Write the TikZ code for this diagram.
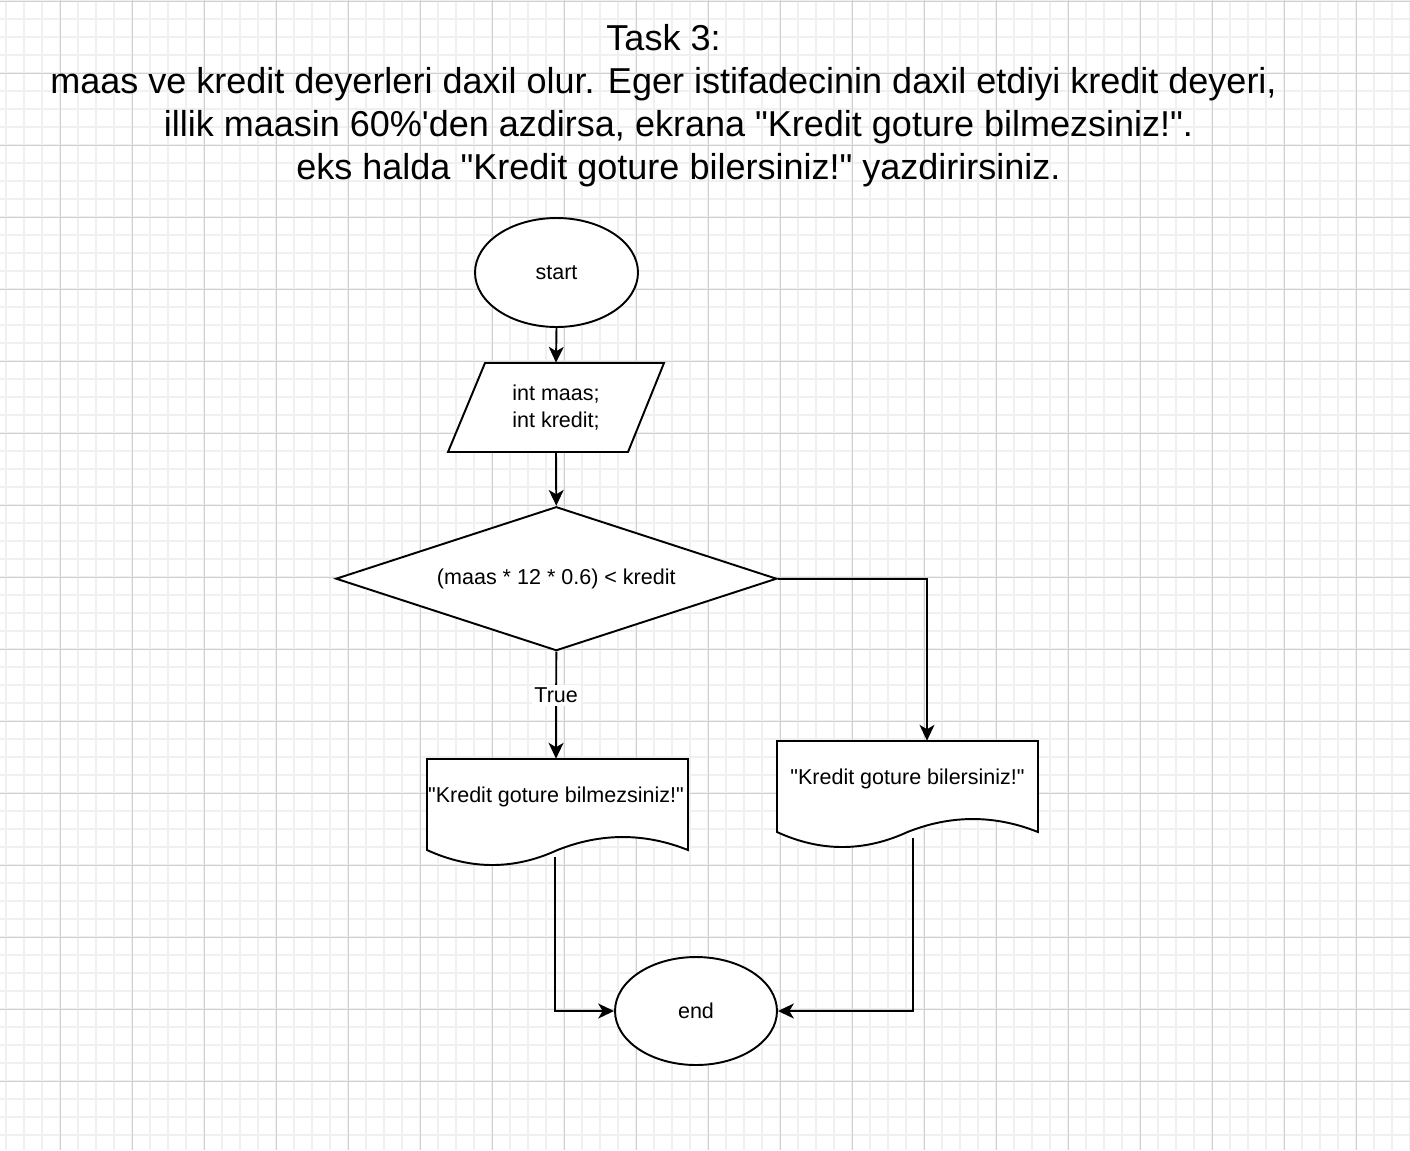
\documentclass[tikz,border=0pt]{standalone}
\usepackage{fontspec}
\setmainfont{Liberation Sans}[Ligatures=TeXOff]
\usetikzlibrary{shapes.geometric,arrows.meta}
\definecolor{gridminor}{HTML}{F0F0F0}
\definecolor{gridmajor}{HTML}{D0D0D0}
\tikzset{
  shp/.style={draw=black, fill=white, line width=1.1pt, line join=miter},
  txt/.style={font=\fontsize{12.25}{15.4}\selectfont, align=center, inner sep=0pt},
  oval/.style={shp, ellipse, txt},
  decision/.style={shp, diamond, txt, aspect=3.06},
  arr/.style={line width=1.1pt, -{Stealth[length=9pt, width=8.5pt, inset=2.5pt]}},
  lbl/.style={txt, fill=white, inner sep=1.5pt},
  titletext/.style={font=\fontsize{20.5}{24.5}\selectfont, align=center, inner sep=0pt}
}
\begin{document}
\begin{tikzpicture}[x=0.02cm, y=-0.02cm]
\useasboundingbox (0,0) rectangle (1410,1150);
% grid
\foreach \x in {6,24,...,1410} \draw[gridminor, line width=0.7pt] (\x,0) -- (\x,1150);
\foreach \y in {1,19,...,1150} \draw[gridminor, line width=0.7pt] (0,\y) -- (1410,\y);
\foreach \x in {60,132,...,1410} \draw[gridmajor, line width=0.55pt] (\x,0) -- (\x,1150);
\foreach \y in {1,73,...,1150} \draw[gridmajor, line width=0.55pt] (0,\y) -- (1410,\y);

% title
\node[titletext, anchor=north] (title) at (663.5,24) {Task 3:\\maas ve kredit deyerleri daxil olur. Eger istifadecinin daxil etdiyi kredit deyeri,\\\hspace*{0.6cm}illik maasin 60\%'den azdirsa, ekrana "Kredit goture bilmezsiniz!".\\\hspace*{0.6cm}eks halda "Kredit goture bilersiniz!" yazdirirsiniz.};

% shape outlines
\draw[shp] (485,363) -- (664,363) -- (628,452) -- (448,452) -- cycle;
\draw[shp] (427,759) -- (688,759) -- (688,850)
  .. controls (644.5,832.7) and (601,832.7) .. (557.5,850)
  .. controls (514,870) and (470.5,870) .. (427,850) -- cycle;
\draw[shp] (777,741) -- (1038,741) -- (1038,832)
  .. controls (994.5,814.7) and (951,814.7) .. (907.5,832)
  .. controls (864,852) and (820.5,852) .. (777,832) -- cycle;

% nodes
\node[oval, minimum width=3.26cm, minimum height=2.18cm] (start) at (556.5,272.5) {start};
\node[txt, minimum width=3.6cm, minimum height=1.78cm] (para) at (556,407.5) {int maas;\\int kredit;};
\node[decision, minimum width=8.82cm, minimum height=2.88cm] (dia) at (556.3,578.7) {(maas * 12 * 0.6) < kredit};
\node[txt, minimum width=5.22cm, minimum height=1.52cm] (doc1) at (556,797) {"Kredit goture bilmezsiniz!"};
\node[txt, minimum width=5.22cm, minimum height=1.52cm] (doc2) at (907.5,779) {"Kredit goture bilersiniz!"};
\node[oval, minimum width=3.24cm, minimum height=2.16cm] (end) at (696,1011) {end};

\coordinate (d1out) at (555,857);
\coordinate (d2out) at (913,838);

% connectors
\draw[arr] (start.south) -- (para.north);
\draw[arr] (para.south) -- (dia.north);
\draw[arr] (dia.south) -- node[lbl, pos=0.41] {True} (doc1.north);
\draw[arr] (dia.east) -| ([xshift=0.39cm]doc2.north);
\draw[arr] (d1out) |- (end.west);
\draw[arr] (d2out) |- (end.east);
\end{tikzpicture}
\end{document}
